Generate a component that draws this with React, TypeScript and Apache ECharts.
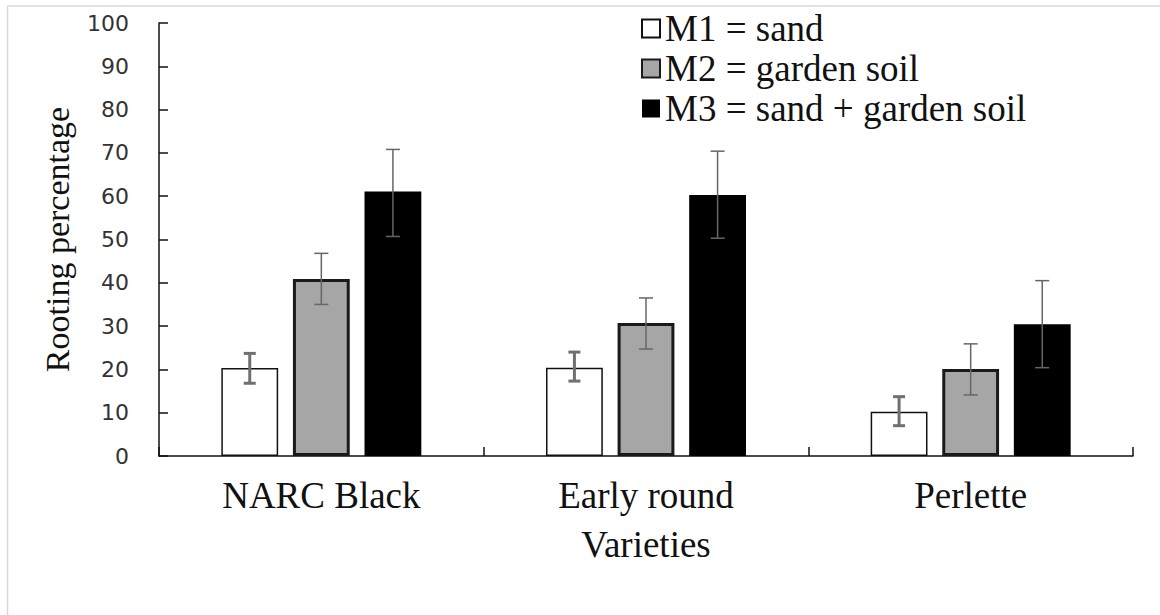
import React, { useEffect, useRef } from "react";
import * as echarts from "echarts";

const categories = ["NARC Black", "Early round", "Perlette"];
const seriesNames = ["M1 = sand", "M2 = garden soil", "M3 = sand + garden soil"];
const m1Values = [20.3, 20.4, 10.2];
const m2Values = [40.9, 30.7, 20.1];
const m3Values = [61.1, 60.3, 30.4];
const m1Low = [16.8, 17.3, 7.0];
const m1High = [23.7, 24.0, 13.7];
const m2Low = [35.0, 24.7, 14.1];
const m2High = [46.8, 36.5, 25.9];
const m3Low = [50.7, 50.3, 20.4];
const m3High = [70.8, 70.4, 40.5];
const yTicks = { min: 0, max: 100, interval: 10 };

const SERIF = "Liberation Serif";
const BAR_W = 0.175;
const BAR_GAP = 0.26;

function errorSeries(k: number, low: number[], high: number[], width: number, cap: number, color: string) {
  return {
    type: "custom",
    name: "err" + k,
    z: 5,
    silent: true,
    data: low.map((l, i) => [i, l, high[i]]),
    renderItem: (params: any, api: any) => {
      const idx = api.value(0);
      const lo = api.value(1);
      const hi = api.value(2);
      const band = api.size([1, 0])[0];
      const off = (k - 1) * band * BAR_W * (1 + BAR_GAP);
      const pTop = api.coord([idx, hi]);
      const pBot = api.coord([idx, lo]);
      const x = pTop[0] + off;
      const style = { stroke: color, lineWidth: width };
      return {
        type: "group",
        children: [
          { type: "line", shape: { x1: x, y1: pTop[1], x2: x, y2: pBot[1] }, style },
          { type: "line", shape: { x1: x - cap, y1: pTop[1], x2: x + cap, y2: pTop[1] }, style },
          { type: "line", shape: { x1: x - cap, y1: pBot[1], x2: x + cap, y2: pBot[1] }, style },
        ],
      };
    },
  };
}

export default function App() {
  const ref = useRef<HTMLDivElement>(null);
  useEffect(() => {
    document.body.style.margin = "0";
    if (!ref.current) return;
    const chart = echarts.init(ref.current, undefined, { renderer: "svg" });
    chart.setOption({
      animation: false,
      backgroundColor: "#ffffff",
      grid: { left: 159, right: 27, top: 23, bottom: 159, containLabel: false },
      legend: {
        orient: "vertical",
        left: 636,
        top: 5,
        itemWidth: 18,
        itemHeight: 18,
        itemGap: 3,
        icon: "rect",
        data: seriesNames,
        textStyle: { fontFamily: SERIF, fontSize: 37, color: "#111", lineHeight: 37 },
      },
      xAxis: {
        type: "category",
        data: categories,
        name: "Varieties",
        nameLocation: "middle",
        nameGap: 70,
        nameTextStyle: { fontFamily: SERIF, fontSize: 37, color: "#111" },
        axisLine: { lineStyle: { color: "#111", width: 1.5 } },
        axisTick: { show: true, inside: true, length: 9, lineStyle: { color: "#111", width: 1.5 } },
        axisLabel: { fontFamily: SERIF, fontSize: 37, color: "#111", margin: 21 },
      },
      yAxis: {
        type: "value",
        min: yTicks.min,
        max: yTicks.max,
        interval: yTicks.interval,
        name: "Rooting percentage",
        nameLocation: "middle",
        nameGap: 85,
        nameTextStyle: { fontFamily: SERIF, fontSize: 34, color: "#111" },
        axisLine: { show: true, lineStyle: { color: "#111", width: 1.5 } },
        axisTick: { show: true, inside: true, length: 9, lineStyle: { color: "#111", width: 1.5 } },
        axisLabel: { fontFamily: "DejaVu Sans", fontSize: 22, color: "#333", margin: 30 },
        splitLine: { show: false },
      },
      series: [
        {
          type: "bar",
          name: seriesNames[0],
          data: m1Values,
          barWidth: BAR_W * 100 + "%",
          barGap: BAR_GAP * 100 + "%",
          itemStyle: { color: "#ffffff", borderColor: "#111", borderWidth: 1.5 },
        },
        {
          type: "bar",
          name: seriesNames[1],
          data: m2Values,
          barWidth: BAR_W * 100 + "%",
          barGap: BAR_GAP * 100 + "%",
          itemStyle: { color: "#a6a6a6", borderColor: "#1a1a1a", borderWidth: 3 },
        },
        {
          type: "bar",
          name: seriesNames[2],
          data: m3Values,
          barWidth: BAR_W * 100 + "%",
          barGap: BAR_GAP * 100 + "%",
          itemStyle: { color: "#000000", borderColor: "#000", borderWidth: 0 },
        },
        errorSeries(0, m1Low, m1High, 3, 6, "#707070"),
        errorSeries(1, m2Low, m2High, 1.5, 7, "#666666"),
        errorSeries(2, m3Low, m3High, 1.5, 7, "#666666"),
      ],
      graphic: [
        { type: "line", shape: { x1: 7.5, y1: 6, x2: 1160, y2: 6 }, style: { stroke: "#d9d9d9", lineWidth: 1.5 } },
        { type: "line", shape: { x1: 7.5, y1: 6, x2: 7.5, y2: 615 }, style: { stroke: "#d9d9d9", lineWidth: 1.5 } },
      ],
    });
    return () => chart.dispose();
  }, []);
  return <div ref={ref} style={{ width: 1160, height: 615 }} />;
}
